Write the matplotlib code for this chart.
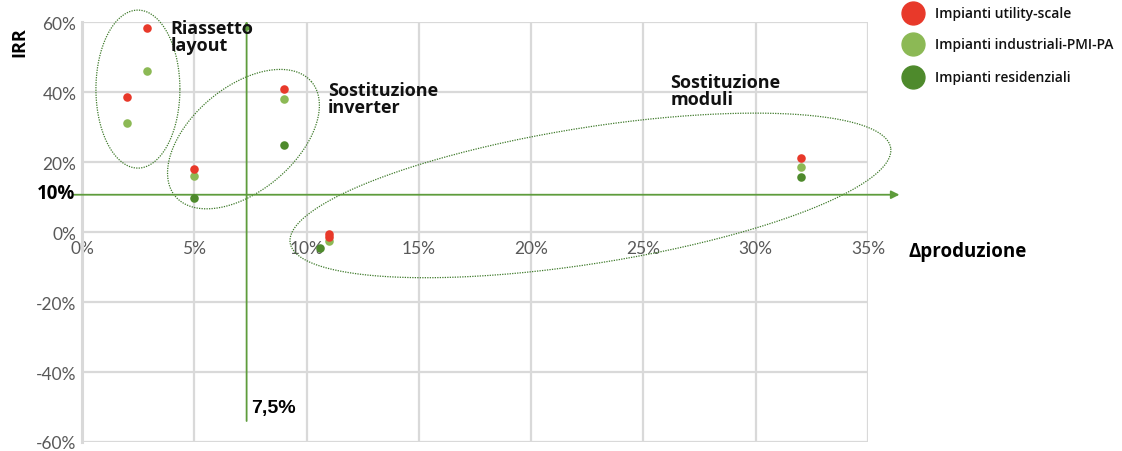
import numpy as np
import matplotlib
matplotlib.use("Agg")
import matplotlib.pyplot as plt
from matplotlib.lines import Line2D

# ---- data (percent) ----
series_names = ["Impianti utility-scale", "Impianti industriali-PMI-PA", "Impianti residenziali"]
series_colors = ["#E8392A", "#8CB955", "#4E8A2C"]

utility_x = [2.9, 2.0, 5.0, 9.0, 11.0, 11.0, 32.0]
utility_y = [58.4, 38.7, 18.0, 41.0, -0.6, -1.3, 21.2]
industrial_x = [2.9, 2.0, 5.0, 9.0, 11.0, 32.0]
industrial_y = [46.2, 31.1, 16.1, 38.2, -2.4, 18.6]
residential_x = [5.0, 9.0, 10.6, 32.0]
residential_y = [9.8, 25.0, -4.5, 15.7]

x_ticks = [0, 5, 10, 15, 20, 25, 30, 35]
y_ticks = [-60, -40, -20, 0, 20, 40, 60]
irr_threshold = 10.7      # horizontal reference line (labelled 10%)
prod_threshold = 7.33     # vertical reference line (labelled 7,5%)

# groups: label, center (x%, y%), semi-axes in px, angle deg, label pos
groups = [
    ("Riassetto\nlayout", (2.49, 40.9), 42, 79, 0, (3.95, 60.9)),
    ("Sostituzione\ninverter", (7.19, 26.6), 89, 52, 40, (10.95, 43.3)),
    ("Sostituzione\nmoduli", (22.64, 10.5), 304, 68, 9, (26.2, 45.6)),
]

W, H, DPI = 1122, 452, 100
fig = plt.figure(figsize=(W / DPI, H / DPI), dpi=DPI)
L, R, T, B = 82, 868, 23.3, 443
ax = fig.add_axes([L / W, 1 - B / H, (R - L) / W, (B - T) / H])
ax.set_xlim(0, 35)
ax.set_ylim(-60, 60)
px_x = (R - L) / 35.0
px_y = (B - T) / 120.0

grid_c = "#D9D9D9"
ax.set_xticks(x_ticks)
ax.set_yticks(y_ticks)
ax.grid(True, color=grid_c, linewidth=1.6)
ax.set_axisbelow(True)
for s in ["top", "right", "bottom"]:
    ax.spines[s].set_visible(False)
ax.spines["left"].set_color(grid_c)
ax.spines["left"].set_linewidth(2.2)
ax.spines["bottom"].set_position(("data", 0))
ax.tick_params(length=0, labelsize=12.5, labelcolor="#595959")
ax.tick_params(axis="x", pad=6)
ax.tick_params(axis="y", pad=4)
ax.set_xticklabels([f"{t}%" for t in x_ticks], fontfamily="Lato")
ax.set_yticklabels([f"{t}%" for t in y_ticks], fontfamily="Lato")

# reference lines with arrows
gc = "#5E9C3C"
ax.annotate("", xy=(36.4, irr_threshold), xytext=(-0.36, irr_threshold),
            arrowprops=dict(arrowstyle="-|>", color=gc, lw=1.3, mutation_scale=12,
                            shrinkA=0, shrinkB=0), annotation_clip=False)
ax.annotate("", xy=(prod_threshold, 60.4), xytext=(prod_threshold, -54.0),
            arrowprops=dict(arrowstyle="-|>", color=gc, lw=1.3, mutation_scale=12,
                            shrinkA=0, shrinkB=0), annotation_clip=False)

# ellipses
lab_font = "Open Sans"
t = np.linspace(0, 2 * np.pi, 400)
for label, (cx, cy), a, b, ang, (tx, ty) in groups:
    th = np.deg2rad(ang)
    dx = a * np.cos(t) * np.cos(th) - b * np.sin(t) * np.sin(th)
    dy = a * np.cos(t) * np.sin(th) + b * np.sin(t) * np.cos(th)
    ax.plot(cx + dx / px_x, cy + dy / px_y, linestyle=(0, (1, 1)), color="#3E7A2A",
            lw=0.9, clip_on=False)
    ax.text(tx, ty, label, fontsize=13, fontweight="bold", fontfamily=lab_font,
            color="#111111", va="top", ha="left", linespacing=0.95)

# points
ms = 38
ax.scatter(utility_x, utility_y, s=ms, color=series_colors[0], zorder=5, linewidths=0)
ax.scatter(industrial_x, industrial_y, s=ms, color=series_colors[1], zorder=4, linewidths=0)
ax.scatter(residential_x, residential_y, s=ms, color=series_colors[2], zorder=3, linewidths=0)

# axis labels
fig.text(19.5 / W, 1 - 42 / H, "IRR", rotation=90, fontsize=13, fontweight="bold",
         fontfamily=lab_font, ha="center", va="center")
fig.text(908 / W, 1 - 252 / H, "Δproduzione", fontsize=13.5, fontweight="bold",
         fontfamily=lab_font, ha="left", va="center")
fig.text(75 / W, 1 - 194 / H, "10%", fontsize=13.5, fontweight="bold",
         fontfamily=lab_font, ha="right", va="center")
fig.text(251 / W, 1 - 409 / H, "7,5%", fontsize=14, fontweight="bold",
         fontfamily="Liberation Sans", ha="left", va="center")

# legend (manual)
leg_y = [14, 45, 78]
for name, c, yy in zip(series_names, series_colors, leg_y):
    fig.add_artist(Line2D([913 / W], [1 - yy / H], transform=fig.transFigure,
                          marker="o", markersize=16.5, markerfacecolor=c,
                          markeredgecolor=c, linestyle="none"))
    fig.text(935 / W, 1 - yy / H, name, fontsize=10, fontweight="semibold",
             fontfamily=lab_font, ha="left", va="center", color="#111111")

fig.savefig("out.png", dpi=DPI)
